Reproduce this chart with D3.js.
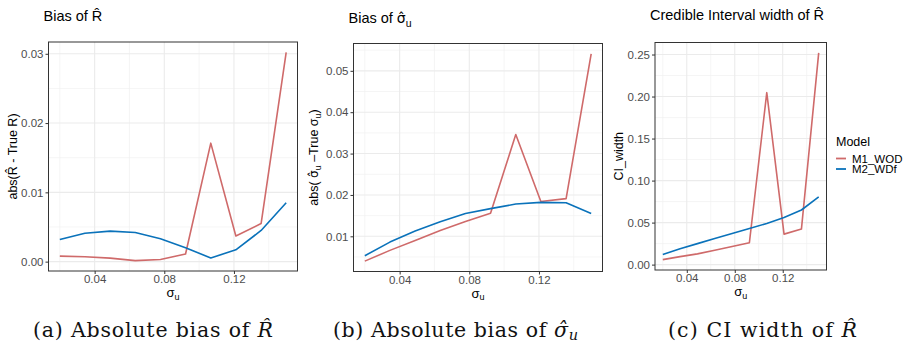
<html>
<head>
<meta charset="utf-8">
<style>
  body { margin: 0; background: white; }
  text { font-family: "Liberation Sans", Arial, sans-serif; }
  .cap { font-family: "DejaVu Serif", serif; }
  .mk { font-family: "DejaVu Sans", sans-serif; }
</style>
</head>
<body>
<svg id="chart" width="905" height="344"></svg>
<script src="https://cdn.jsdelivr.net/npm/d3@7"></script>
<script>
// sigma_u grid (x axis), shared by the three panels
const sigmaU = [0.02, 0.0344, 0.0489, 0.0633, 0.0778, 0.0922, 0.1067, 0.1211, 0.1356, 0.15]
const models = ["M1_WOD", "M2_WDf"]

// (a) absolute bias of R-hat
const biasR_M1 = [0.0008, 0.0007, 0.0005, 0.00015, 0.0003, 0.0011, 0.0171, 0.0037, 0.0055, 0.0302]
const biasR_M2 = [0.0032, 0.0041, 0.0044, 0.0042, 0.0033, 0.0020, 0.00053, 0.0017, 0.0045, 0.0085]

// (b) absolute bias of sigma_u-hat
const biasS_M1 = [0.0040, 0.0066, 0.0090, 0.0114, 0.0136, 0.0156, 0.0346, 0.0184, 0.0191, 0.0541]
const biasS_M2 = [0.0053, 0.0086, 0.0113, 0.0135, 0.0155, 0.0167, 0.0178, 0.0182, 0.0181, 0.0155]

// (c) credible interval width of R-hat
const ciW_M1 = [0.0059, 0.0095, 0.0128, 0.0170, 0.0215, 0.0260, 0.2046, 0.0363, 0.0423, 0.2520]
const ciW_M2 = [0.0120, 0.0190, 0.0250, 0.0310, 0.0370, 0.0430, 0.0490, 0.0560, 0.0650, 0.0806]

const xTicks = [0.04, 0.08, 0.12]
const xMinor = [0.02, 0.06, 0.10, 0.14]
const yTicksA = [0, 0.01, 0.02, 0.03]
const yTicksB = [0.01, 0.02, 0.03, 0.04, 0.05]
const yTicksC = [0, 0.05, 0.10, 0.15, 0.20, 0.25]

const colors = {"M1_WOD": "#cf6a6a", "M2_WDf": "#0a72ba"}

const SIG = "\u03c3", HAT = "\u0302"

const svg = d3.select("#chart")

const panels = [
  {left: 48.5, right: 297.5, top: 42, bottom: 271, titleY: 21,
   series: [biasR_M1, biasR_M2], yTicks: yTicksA, ylabX: 17},
  {left: 353.5, right: 602.5, top: 43.5, bottom: 271.5, titleY: 23,
   series: [biasS_M1, biasS_M2], yTicks: yTicksB, ylabX: 318},
  {left: 655, right: 826.5, top: 42.5, bottom: 270, titleY: 20,
   series: [ciW_M1, ciW_M2], yTicks: yTicksC, ylabX: 623}
]

function expand(ext) {
  let pad = (ext[1] - ext[0]) * 0.05
  return [ext[0] - pad, ext[1] + pad]
}

panels.forEach((p, i) => {
  let g = svg.append("g")
  let x = d3.scaleLinear().domain(expand(d3.extent(sigmaU))).range([p.left, p.right])
  let y = d3.scaleLinear().domain(expand(d3.extent(p.series.flat()))).range([p.bottom, p.top])

  // minor grid
  let yMinor = []
  let step = p.yTicks[1] - p.yTicks[0]
  for (let k = 0; k < p.yTicks.length + 1; k++) {
    let v = p.yTicks[0] - step / 2 + k * step
    if (v > y.domain()[0] && v < y.domain()[1]) yMinor.push(v)
  }
  g.selectAll(".ymin").data(yMinor).enter().append("line")
    .attr("x1", p.left).attr("x2", p.right)
    .attr("y1", d => y(d)).attr("y2", d => y(d))
    .attr("stroke", "#f0f0f0").attr("stroke-width", 0.7)
  g.selectAll(".xmin").data(xMinor).enter().append("line")
    .attr("y1", p.top).attr("y2", p.bottom)
    .attr("x1", d => x(d)).attr("x2", d => x(d))
    .attr("stroke", "#f0f0f0").attr("stroke-width", 0.7)

  // major grid
  g.selectAll(".ymaj").data(p.yTicks).enter().append("line")
    .attr("x1", p.left).attr("x2", p.right)
    .attr("y1", d => y(d)).attr("y2", d => y(d))
    .attr("stroke", "#ebebeb").attr("stroke-width", 1.1)
  g.selectAll(".xmaj").data(xTicks).enter().append("line")
    .attr("y1", p.top).attr("y2", p.bottom)
    .attr("x1", d => x(d)).attr("x2", d => x(d))
    .attr("stroke", "#ebebeb").attr("stroke-width", 1.1)

  // lines
  let line = d3.line().x((d, j) => x(sigmaU[j])).y(d => y(d))
  p.series.forEach((s, k) => {
    g.append("path").attr("d", line(s))
      .attr("fill", "none").attr("stroke", colors[models[k]])
      .attr("stroke-width", 1.6).attr("stroke-linejoin", "round")
  })

  // border
  g.append("rect").attr("x", p.left).attr("y", p.top)
    .attr("width", p.right - p.left).attr("height", p.bottom - p.top)
    .attr("fill", "none").attr("stroke", "#333").attr("stroke-width", 1)

  // axes
  let fmt = d3.format(".2f")
  let xAxis = g.append("g").attr("transform", `translate(0,${p.bottom})`)
    .call(d3.axisBottom(x).tickValues(xTicks).tickFormat(fmt).tickSize(3).tickPadding(1))
  let yAxis = g.append("g").attr("transform", `translate(${p.left},0)`)
    .call(d3.axisLeft(y).tickValues(p.yTicks).tickFormat(fmt).tickSize(3).tickPadding(2))
  for (let ax of [xAxis, yAxis]) {
    ax.select(".domain").remove()
    ax.selectAll("line").attr("stroke", "#333")
    ax.selectAll("text").attr("fill", "#4d4d4d").style("font-size", "11.5px")
      .style("font-family", "Liberation Sans, Arial, sans-serif")
  }

  // x title sigma_u
  let xt = g.append("text").attr("x", (p.left + p.right) / 2).attr("y", p.bottom + 26)
    .attr("text-anchor", "middle").style("font-size", "13px")
  xt.append("tspan").text(SIG)
  xt.append("tspan").attr("dy", 2.5).style("font-size", "9px").text("u")

  // y title
  let yt = g.append("text")
    .attr("transform", `translate(${p.ylabX},${(p.top + p.bottom) / 2}) rotate(-90)`)
    .attr("text-anchor", "middle").style("font-size", "12.5px")
  // plot titles
  let tt = g.append("text").attr("x", p.left - 5).attr("y", p.titleY).style("font-size", "14.5px")
  if (i == 0) {
    yt.text("abs(R" + HAT + " - True R)")
    tt.text("Bias of R" + HAT)
  } else if (i == 1) {
    yt.append("tspan").text("abs( ")
    yt.append("tspan").attr("class", "mk").style("font-size", "12px").text(SIG + HAT)
    yt.append("tspan").attr("dy", 3).style("font-size", "9px").text("u")
    yt.append("tspan").attr("dy", -3).text(" \u2013True  " + SIG)
    yt.append("tspan").attr("dy", 3).style("font-size", "9px").text("u")
    yt.append("tspan").attr("dy", -3).text(")")
    tt.append("tspan").text("Bias of ")
    tt.append("tspan").attr("class", "mk").style("font-size", "14px").text(SIG + HAT)
    tt.append("tspan").attr("dy", 4).style("font-size", "10.5px").text("u")
  } else {
    yt.text("CI_width")
    tt.text("Credible Interval width of R" + HAT)
  }
})

// captions
let caps = [
  {x: 33, w: 240, main: "(a) Absolute bias of ", math: "R" + HAT, sub: ""},
  {x: 333, w: 245, main: "(b) Absolute bias of ", math: SIG + HAT, sub: "u"},
  {x: 668, w: 189, main: "(c) CI width of ", math: "R" + HAT, sub: ""}
]
caps.forEach(c => {
  let t = svg.append("text").attr("class", "cap").attr("x", c.x).attr("y", 337)
    .style("font-size", "20.5px").attr("fill", "#111")
    .attr("textLength", c.w).attr("lengthAdjust", "spacing")
  t.append("tspan").text(c.main)
  t.append("tspan").style("font-style", "italic").text(c.math)
  if (c.sub) t.append("tspan").attr("dy", 3).style("font-size", "14.5px").style("font-style", "italic").text(c.sub)
})

// legend
let lg = svg.append("g")
lg.append("text").attr("x", 836).attr("y", 146).style("font-size", "12.5px").text("Model")
models.forEach((m, k) => {
  let yy = 158.5 + k * 10.5
  lg.append("line").attr("x1", 836).attr("x2", 846).attr("y1", yy).attr("y2", yy)
    .attr("stroke", colors[m]).attr("stroke-width", 1.8)
  lg.append("text").attr("x", 852).attr("y", yy + 4).style("font-size", "11.5px").text(m)
})
</script>
</body>
</html>
